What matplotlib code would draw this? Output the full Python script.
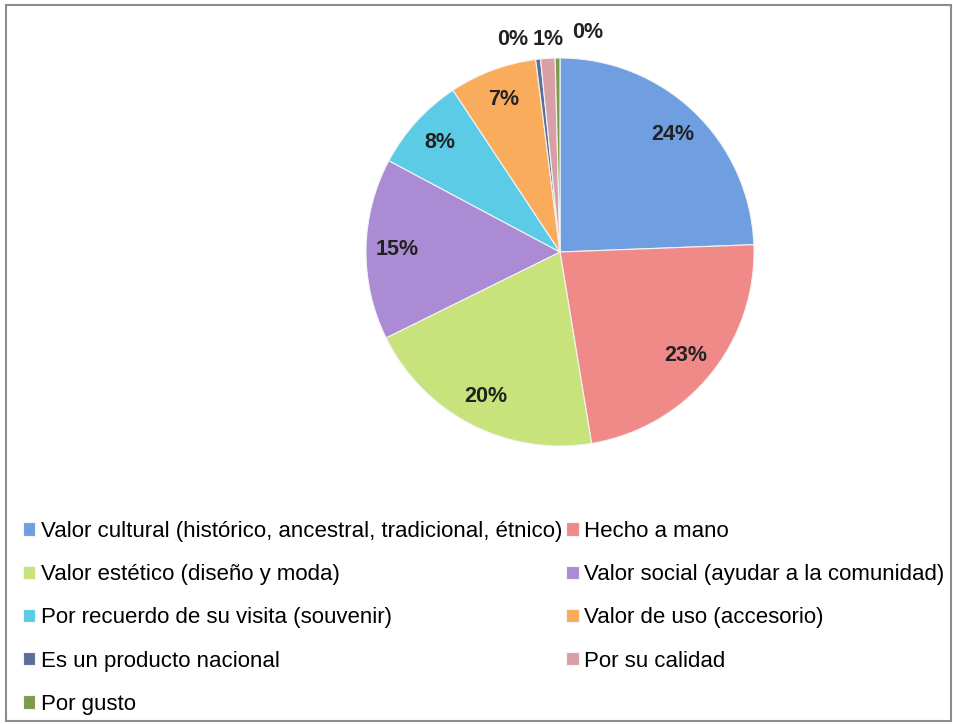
import numpy as np
import matplotlib.pyplot as plt
from matplotlib.patches import Rectangle

categorias = [
    "Valor cultural (histórico, ancestral, tradicional, étnico)",
    "Hecho a mano",
    "Valor estético (diseño y moda)",
    "Valor social (ayudar a la comunidad)",
    "Por recuerdo de su visita (souvenir)",
    "Valor de uso (accesorio)",
    "Es un producto nacional",
    "Por su calidad",
    "Por gusto",
]
porcentajes = [24.4, 23.0, 20.3, 15.1, 7.9, 7.3, 0.4, 1.2, 0.4]
colores = ["#6f9fe0", "#f08a88", "#c8e27c", "#ab8cd4", "#5ccce6",
           "#f9ad5c", "#5a6f9a", "#d8a0a6", "#7f9a4e"]

W, H = 954, 724
fig = plt.figure(figsize=(W / 100, H / 100), dpi=100)
fig.patches.append(Rectangle((6 / W, 3 / H), 945 / W, 716 / H, transform=fig.transFigure,
                             fill=False, edgecolor="#8c8c8c", linewidth=1.5))

cx, cy, r = 560, 252, 194
ax = fig.add_axes([(cx - r) / W, (H - cy - r) / H, 2 * r / W, 2 * r / H])
wedges, _ = ax.pie(porcentajes, colors=colores, startangle=90, counterclock=False,
                   wedgeprops=dict(edgecolor="#f4f4f4", linewidth=0.8))
ax.set_xlim(-1, 1)
ax.set_ylim(-1, 1)
ax.set_aspect("equal")

fuente = ["Liberation Sans", "DejaVu Sans"]

# etiquetas de porcentaje
pequenas = [i for i, v in enumerate(porcentajes) if v < 3]
desp = {6: -0.12, 7: 0.01, 8: 0.155}
for i, w in enumerate(wedges):
    ang = np.deg2rad((w.theta1 + w.theta2) / 2)
    txt = f"{round(porcentajes[i])}%"
    if i in pequenas:
        x, y = np.cos(ang) * 1.1 + desp[i], np.sin(ang) * 1.1 + (0.03 if i == 8 else 0)
    else:
        x, y = np.cos(ang) * 0.84, np.sin(ang) * 0.84
    ax.text(x, y, txt, ha="center", va="center", fontsize=15.5, fontweight="bold",
            color="#222222", family=fuente, clip_on=False)

orden = [0, 2, 4, 6, 8, 1, 3, 5, 7]
leg = fig.legend([wedges[i] for i in orden], [categorias[i] for i in orden],
                 loc="upper left", bbox_to_anchor=(14 / W, 1 - 512 / H), ncol=2,
                 frameon=False, prop=dict(family=fuente, size=16),
                 handlelength=0.55, handleheight=0.55, handletextpad=0.25,
                 labelspacing=1.0, columnspacing=0.2, borderaxespad=0)

fig.savefig("out.png", dpi=100)
